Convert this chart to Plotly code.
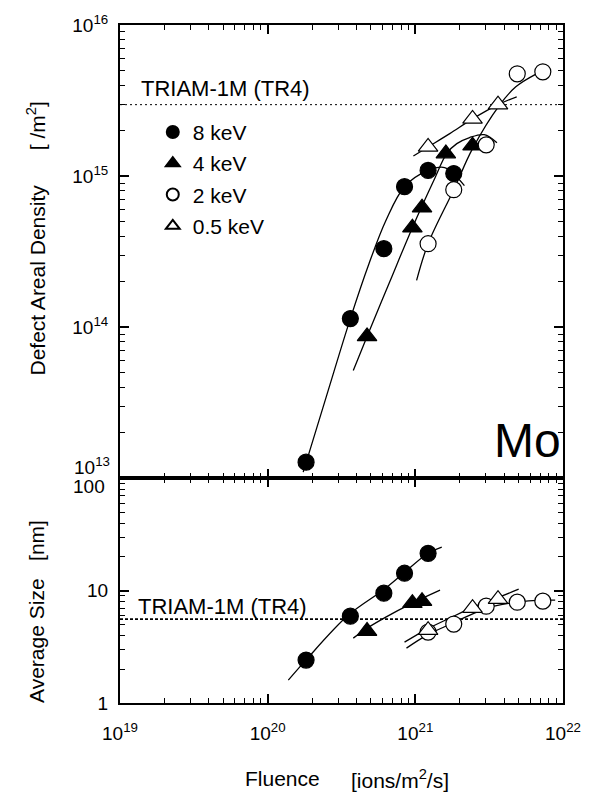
import plotly.graph_objects as go
from plotly.subplots import make_subplots

# ---------------- data ----------------
# 8 keV
x8_dens = [1.82e20, 3.63e20, 6.12e20, 8.45e20, 1.22e21, 1.82e21]
dens8 = [1.28e13, 1.14e14, 3.31e14, 8.51e14, 1.09e15, 1.04e15]
x8_size = [1.82e20, 3.63e20, 6.12e20, 8.45e20, 1.22e21]
size8 = [2.41, 5.93, 9.5, 14.3, 21.5]
# 4 keV
x4_dens = [4.71e20, 9.55e20, 1.11e21, 1.61e21, 2.44e21]
dens4 = [8.69e13, 4.56e14, 6.18e14, 1.41e15, 1.59e15]
x4_size = [4.71e20, 9.55e20, 1.11e21]
size4 = [4.37, 7.74, 8.07]
# 2 keV
x2_dens = [1.22e21, 1.82e21, 3.02e21, 4.9e21, 7.3e21]
dens2 = [3.57e14, 8.13e14, 1.61e15, 4.75e15, 4.9e15]
x2_size = [1.22e21, 1.82e21, 3.02e21, 4.9e21, 7.3e21]
size2 = [4.28, 5.04, 7.28, 7.9, 8.07]
# 0.5 keV
x05_dens = [1.22e21, 2.44e21, 3.63e21]
dens05 = [1.56e15, 2.39e15, 2.97e15]
x05_size = [1.22e21, 2.44e21, 3.63e21]
size05 = [4.45, 6.99, 8.4]

# fitted guide curves
c8_dens_x = [1.74e20, 2.51e20, 3.63e20, 4.86e20, 6.31e20, 8.45e20, 1.22e21, 1.58e21, 2.15e21]
c8_dens_y = [1.1e13, 3.54e13, 1.14e14, 2.64e14, 5.07e14, 8.51e14, 1.09e15, 1.14e15, 8.65e14]
c4_dens_x = [3.8e20, 4.71e20, 6.71e20, 9.55e20, 1.36e21, 1.63e21, 1.91e21, 2.33e21, 2.93e21, 3.57e21]
c4_dens_y = [5.18e13, 8.69e13, 2.0e14, 4.56e14, 9.75e14, 1.41e15, 1.64e15, 1.8e15, 1.88e15, 1.66e15]
c2_dens_x = [1.02e21, 1.22e21, 1.82e21, 2.44e21, 3.69e21, 4.79e21, 6.61e21]
c2_dens_y = [2.04e14, 3.57e14, 8.13e14, 1.52e15, 2.92e15, 3.9e15, 4.75e15]
c05_dens_x = [9.7e20, 1.22e21, 1.71e21, 2.44e21, 3.63e21, 4.86e21]
c05_dens_y = [1.36e15, 1.56e15, 1.91e15, 2.39e15, 2.97e15, 3.35e15]

c8_size_x = [1.38e20, 1.79e20, 3.52e20, 6.03e20, 8.32e20, 1.22e21, 1.51e21]
c8_size_y = [1.6, 2.36, 6.06, 10.1, 14.3, 21.5, 24.4]
c4_size_x = [3.8e20, 4.5e20, 6.31e20, 9.55e20, 1.47e21]
c4_size_y = [3.78, 4.45, 5.81, 7.74, 10.1]
c2_size_x = [8.71e20, 1.2e21, 1.79e21, 2.51e21, 3.42e21, 4.86e21, 7.13e21, 8.85e21]
c2_size_y = [3.08, 4.02, 5.14, 6.31, 7.28, 7.9, 8.23, 8.23]
c05_size_x = [8.45e20, 1.2e21, 1.71e21, 2.47e21, 3.69e21, 5.01e21]
c05_size_y = [3.48, 4.55, 5.7, 7.13, 8.75, 10.3]

tr4_density = 2.97e15
tr4_size = 5.58
x_span = [1e19, 1e22]

x_ticks = [1e19, 1e20, 1e21, 1e22]
x_ticktext = ["10<sup>19</sup>", "10<sup>20</sup>", "10<sup>21</sup>", "10<sup>22</sup>"]
dens_ticks = [1e13, 1e14, 1e15, 1e16]
dens_ticktext = ["", "10<sup>14</sup>", "10<sup>15</sup>", "10<sup>16</sup>"]
size_ticks = [1, 10, 100]
size_ticktext = ["1", "10", ""]

FONT = "Liberation Sans, Arial, Helvetica, sans-serif"

fig = make_subplots(rows=2, cols=1, shared_xaxes=True, vertical_spacing=0,
                    row_heights=[454, 225])

def curve(x, y, row):
    fig.add_trace(go.Scatter(x=x, y=y, mode="lines", line=dict(color="black", width=1.3, shape="spline"),
                             showlegend=False, hoverinfo="skip"), row=row, col=1)

for cx, cy in [(c8_dens_x, c8_dens_y), (c4_dens_x, c4_dens_y), (c2_dens_x, c2_dens_y), (c05_dens_x, c05_dens_y)]:
    curve(cx, cy, 1)
for cx, cy in [(c8_size_x, c8_size_y), (c4_size_x, c4_size_y), (c2_size_x, c2_size_y), (c05_size_x, c05_size_y)]:
    curve(cx, cy, 2)

fig.add_trace(go.Scatter(x=x_span, y=[tr4_density] * 2, mode="lines",
                         line=dict(color="black", width=1, dash="2px,3px"), showlegend=False), row=1, col=1)
fig.add_trace(go.Scatter(x=x_span, y=[tr4_size] * 2, mode="lines",
                         line=dict(color="black", width=1.6, dash="3px,2px"), showlegend=False), row=2, col=1)

styles = [
    ("8 keV", "circle", "black", x8_dens, dens8, x8_size, size8),
    ("4 keV", "triangle-up", "black", x4_dens, dens4, x4_size, size4),
    ("2 keV", "circle", "white", x2_dens, dens2, x2_size, size2),
    ("0.5 keV", "triangle-up", "white", x05_dens, dens05, x05_size, size05),
]
for name, sym, fill, xd, yd, xs, ys in styles:
    sz = 16 if sym == "circle" else 17
    mk = dict(symbol=sym, size=sz, color=fill, line=dict(color="black", width=1.2))
    fig.add_trace(go.Scatter(x=xd, y=yd, mode="markers", marker=mk, name=name, legendgroup=name,
                             showlegend=True), row=1, col=1)
    fig.add_trace(go.Scatter(x=xs, y=ys, mode="markers", marker=mk, name=name, legendgroup=name,
                             showlegend=False), row=2, col=1)

def minor_vals(lo, hi):
    return [float(m) * 10.0 ** e for e in range(lo, hi) for m in range(2, 10)]

axis_common = dict(showline=True, linecolor="black", linewidth=2, mirror="ticks", ticks="inside",
                   ticklen=9, tickwidth=1.5, tickcolor="black", showgrid=False, zeroline=False,
                   tickfont=dict(family=FONT, size=19, color="black"))

fig.update_xaxes(type="log", range=[19, 22], tickmode="array", tickvals=x_ticks, ticktext=x_ticktext,
                 minor=dict(ticks="inside", ticklen=5, tickwidth=1, tickcolor="black",
                            tickmode="array", tickvals=minor_vals(19, 22)),
                 **axis_common)
fig.update_xaxes(showticklabels=False, row=1, col=1)
fig.update_xaxes(showticklabels=True, ticklabelstandoff=12, row=2, col=1)

fig.update_yaxes(type="log", range=[13, 16], tickmode="array", tickvals=dens_ticks, ticktext=dens_ticktext,
                 minor=dict(ticks="inside", ticklen=5, tickwidth=1, tickcolor="black",
                            tickmode="array", tickvals=minor_vals(13, 16)),
                 ticklabelstandoff=6, row=1, col=1, **axis_common)
fig.update_yaxes(type="log", range=[0, 2], tickmode="array", tickvals=size_ticks, ticktext=size_ticktext,
                 minor=dict(ticks="inside", ticklen=5, tickwidth=1, tickcolor="black",
                            tickmode="array", tickvals=minor_vals(0, 2)),
                 ticklabelstandoff=6, row=2, col=1, **axis_common)

ann = []
def add_ann(text, x, y, size, xref="paper", yref="paper", xanchor="center", yanchor="middle", angle=0):
    ann.append(dict(text=text, x=x, y=y, xref=xref, yref=yref, xanchor=xanchor, yanchor=yanchor,
                    textangle=angle, showarrow=False, font=dict(family=FONT, size=size, color="black")))

NB = "\u00a0"
add_ann("TRIAM-1M (TR4)", 19.13, 15.58, 22, xref="x", yref="y", xanchor="left")
add_ann("TRIAM-1M (TR4)", 19.11, 0.86, 22, xref="x2", yref="y2", xanchor="left")
add_ann("Mo", 1.0, 13.25, 48, xref="paper", yref="y", xanchor="right")
# labels at the panel junction
add_ann("10<sup>13</sup>", -0.018, 13.08, 19, xref="paper", yref="y", xanchor="right")
add_ann("100", -0.03, 1.93, 19, xref="paper", yref="y2", xanchor="right")
# axis titles
add_ann("Defect Areal Density" + NB * 6 + "[ /m<sup>2</sup>]", -0.19, 14.586, 21,
        xref="paper", yref="y", angle=-90)
add_ann("Average Size" + NB * 3 + "[nm]", -0.19, 0.818, 21, xref="paper", yref="y2", angle=-90)
add_ann("Fluence", 0.366, -0.112, 21, xanchor="center")
add_ann("[ions/m<sup>2</sup>/s]", 0.633, -0.112, 21, xanchor="center")

fig.update_layout(
    width=593, height=792, margin=dict(l=120, r=23, t=24, b=89),
    paper_bgcolor="white", plot_bgcolor="white",
    font=dict(family=FONT, size=20, color="black"),
    showlegend=True,
    legend=dict(x=0.074, y=0.872, xanchor="left", yanchor="top", bgcolor="rgba(0,0,0,0)",
                font=dict(family=FONT, size=21, color="black"), tracegroupgap=1, itemsizing="constant"),
    annotations=ann,
)
fig.write_html("out.html", config={"displayModeBar": False},
               post_script="document.body.style.margin='0px';")
